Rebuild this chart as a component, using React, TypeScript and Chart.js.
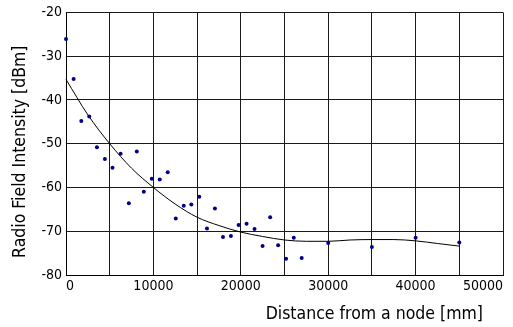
import React, { useEffect, useRef } from "react";
import { Chart, registerables } from "chart.js";

Chart.register(...registerables);

const distances = [0, 870, 1750, 2660, 3540, 4450, 5320, 6250, 7190, 8100, 8900, 9820, 10730, 11640, 12560, 13470, 14340, 15250, 16130, 17040, 17960, 18870, 19750, 20660, 21570, 22490, 23360, 24270, 25180, 26060, 26970, 30000, 35000, 40000, 45000];
const intensities = [-26.1, -35.2, -44.8, -43.8, -50.8, -53.5, -55.5, -52.3, -63.6, -51.8, -61.0, -58.0, -58.2, -56.5, -67.1, -64.2, -63.9, -62.1, -69.4, -64.8, -71.3, -71.1, -68.6, -68.3, -69.5, -73.4, -66.8, -73.2, -76.3, -71.5, -76.1, -72.7, -73.6, -71.5, -72.6];

const trendX = [0, 2500, 5000, 7500, 10000, 12500, 15000, 17500, 20000, 22500, 25000, 27500, 30000, 32500, 35000, 37500, 40000, 42500, 45000];
const trendY = [-35.3, -43.4, -50.0, -55.6, -60.0, -63.8, -66.8, -68.7, -70.2, -71.2, -72.0, -72.3, -72.3, -72.0, -71.9, -71.9, -72.2, -72.8, -73.4];

const xTicks = [0, 10000, 20000, 30000, 40000, 50000];
const yTicks = [-20, -30, -40, -50, -60, -70, -80];

const xTitle = "Distance from a node [mm]";
const yTitle = "Radio Field Intensity [dBm]";

const FONT = '"DejaVu Sans Condensed", "DejaVu Sans", sans-serif';

const titlePlugin = {
  id: "axisTitles",
  afterDraw(chart: any) {
    const { ctx, chartArea } = chart;
    ctx.save();
    ctx.fillStyle = "#000";
    ctx.font = `17.5px ${FONT}`;
    ctx.textAlign = "right";
    ctx.textBaseline = "middle";
    ctx.fillText(xTitle, chartArea.right - 20, chartArea.bottom + 39);
    ctx.translate(20, (chartArea.top + chartArea.bottom) / 2 + 8);
    ctx.rotate(-Math.PI / 2);
    ctx.textAlign = "center";
    ctx.fillText(yTitle, 0, 0);
    ctx.restore();
  },
};

export default function App() {
  const ref = useRef<HTMLCanvasElement>(null);
  useEffect(() => {
    if (!ref.current) return;
    const chart = new Chart(ref.current, {
      type: "scatter",
      data: {
        datasets: [
          {
            label: "measured",
            data: distances.map((d, i) => ({ x: d, y: intensities[i] })),
            backgroundColor: "#00008B",
            borderColor: "#00008B",
            pointRadius: 2,
            pointBorderWidth: 0,
            showLine: false,
            clip: false as any,
          },
          {
            label: "trend",
            data: trendX.map((d, i) => ({ x: d, y: trendY[i] })),
            borderColor: "#000",
            borderWidth: 1,
            pointRadius: 0,
            showLine: true,
            tension: 0.4,
            cubicInterpolationMode: "monotone",
            clip: false as any,
          } as any,
        ],
      },
      options: {
        animation: false,
        responsive: false,
        layout: { padding: { top: 11, right: 10, left: 0, bottom: 0 } },
        plugins: { legend: { display: false }, tooltip: { enabled: false } },
        scales: {
          x: {
            type: "linear",
            min: 0,
            max: 50000,
            afterFit: (s: any) => { s.height = 52; },
            ticks: {
              stepSize: 5000,
              autoSkip: false,
              maxRotation: 0,
              align: "inner",
              padding: 3,
              color: "#000",
              font: { family: FONT, size: 14 },
              callback: (v: any) => (xTicks.includes(Number(v)) ? String(v) : ""),
            },
            grid: { color: "#1a1a1a", lineWidth: 1, drawTicks: false },
            border: { color: "#000", width: 1 },
          },
          y: {
            type: "linear",
            min: -80,
            max: -20,
            afterFit: (s: any) => { s.width = 66; },
            ticks: {
              stepSize: 10,
              padding: 4,
              color: "#000",
              font: { family: FONT, size: 14 },
              callback: (v: any) => (yTicks.includes(Number(v)) ? String(v) : ""),
            },
            grid: { color: "#1a1a1a", lineWidth: 1, drawTicks: false },
            border: { color: "#000", width: 1 },
          },
        },
      },
      plugins: [titlePlugin],
    });
    return () => chart.destroy();
  }, []);
  return (
    <div style={{ position: "absolute", left: 0, top: 0, width: 513, height: 327, background: "#fff" }}>
      <canvas ref={ref} width={513} height={327} style={{ display: "block" }} />
    </div>
  );
}
